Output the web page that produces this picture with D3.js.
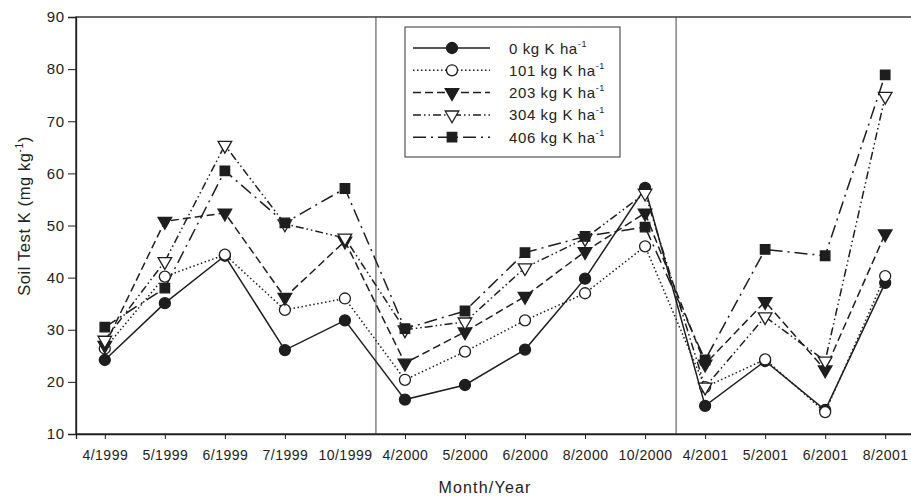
<!DOCTYPE html>
<html>
<head>
<meta charset="utf-8">
<script src="https://cdn.jsdelivr.net/npm/d3@7"></script>
<style>
  html, body { margin: 0; padding: 0; background: #fff; }
  svg { display: block; font-family: Arial, "Liberation Sans", sans-serif; }
</style>
</head>
<body>
<svg id="chart" width="911" height="497"></svg>
<script>
// month/year labels on the x axis
const months = ["4/1999", "5/1999", "6/1999", "7/1999", "10/1999", "4/2000", "5/2000",
  "6/2000", "8/2000", "10/2000", "4/2001", "5/2001", "6/2001", "8/2001"]

// soil test K (mg/kg) per K rate
const k0 = [24.2, 35.1, 44.2, 26.1, 31.8, 16.6, 19.4, 26.2, 39.8, 57.2, 15.4, 24.0, 14.6, 39.0]
const k101 = [26.4, 40.2, 44.4, 33.8, 36.0, 20.4, 25.8, 31.8, 37.0, 46.0, 19.0, 24.3, 14.2, 40.3]
const k203 = [27.0, 50.8, 52.4, 36.2, 47.0, 23.6, 29.6, 36.4, 45.0, 52.4, 23.4, 35.4, 22.3, 48.4]
const k304 = [28.0, 43.1, 65.4, 50.3, 47.6, 30.0, 31.5, 41.9, 47.5, 56.2, 19.0, 32.5, 24.0, 74.8]
const k406 = [30.5, 38.0, 60.5, 50.5, 57.1, 30.2, 33.6, 44.8, 47.9, 49.7, 24.2, 45.4, 44.2, 78.9]

const rateNames = ["0", "101", "203", "304", "406"]
const yTicks = [10, 20, 30, 40, 50, 60, 70, 80, 90]
// year boundaries fall between these months
const yearBreaks = [["10/1999", "4/2000"], ["10/2000", "4/2001"]]

const ink = "#1e1e1e"
const marginLeft = 76
const marginTop = 17
const plotRight = 914
const plotBottom = 434

const series = [
  {name: rateNames[0], values: k0, dash: null, symbol: d3.symbolCircle, fill: ink, size: 95},
  {name: rateNames[1], values: k101, dash: "1.5,2.5", symbol: d3.symbolCircle, fill: "#fff", size: 95},
  {name: rateNames[2], values: k203, dash: "8,4", symbol: "down", fill: ink, size: 80},
  {name: rateNames[3], values: k304, dash: "8,3,1.5,3,1.5,3", symbol: "down", fill: "#fff", size: 80},
  {name: rateNames[4], values: k406, dash: "13,5,2,5", symbol: d3.symbolSquare, fill: ink, size: 90}
]

const svg = d3.select("#chart")

const x = d3.scalePoint(months, [marginLeft, plotRight]).padding(0.48)
const y = d3.scaleLinear([10, 90], [plotBottom, marginTop])

// frame
svg.append("rect")
  .attr("x", marginLeft).attr("y", marginTop)
  .attr("width", plotRight - marginLeft).attr("height", plotBottom - marginTop)
  .attr("fill", "none").attr("stroke", ink).attr("stroke-width", 1.3)

// year separators
yearBreaks.forEach(([a, b]) => {
  const xv = (x(a) + x(b)) / 2 + 1
  svg.append("line")
    .attr("x1", xv).attr("x2", xv)
    .attr("y1", marginTop).attr("y2", plotBottom)
    .attr("stroke", "#444").attr("stroke-width", 1)
})

const xAxis = d3.axisBottom(x).tickSize(5).tickPadding(11)
svg.append("g")
  .attr("transform", `translate(0,${plotBottom})`)
  .call(xAxis)
  .call(g => g.select(".domain").attr("stroke", ink).attr("stroke-width", 1.3))
  .call(g => g.selectAll("line").attr("stroke", ink))
  .call(g => g.selectAll("text").attr("fill", "#222").attr("font-size", 14)
    .attr("letter-spacing", 0.5).attr("font-family", "Arial"))

const yAxis = d3.axisLeft(y).tickValues(yTicks).tickSize(8).tickPadding(3)
svg.append("g")
  .attr("transform", `translate(${marginLeft},0)`)
  .call(yAxis)
  .call(g => g.select(".domain").attr("stroke", ink).attr("stroke-width", 1.3))
  .call(g => g.selectAll("line").attr("stroke", ink))
  .call(g => g.selectAll("text").attr("fill", "#222").attr("font-size", 15)
    .attr("letter-spacing", 0.8).attr("font-family", "Arial"))

// axis titles
svg.append("text")
  .attr("x", 485).attr("y", 493)
  .attr("text-anchor", "middle").attr("font-size", 16).attr("letter-spacing", 1.2).attr("fill", "#222")
  .text("Month/Year")

const yt = svg.append("text")
  .attr("transform", `translate(30,216) rotate(-90)`)
  .attr("text-anchor", "middle").attr("font-size", 16.5).attr("letter-spacing", 0.6).attr("fill", "#222")
yt.append("tspan").text("Soil Test K (mg kg")
yt.append("tspan").attr("dy", -7).attr("font-size", 10).text("-1")
yt.append("tspan").attr("dy", 7).text(")")

function symbolPath(s) {
  if (s.symbol === "down") {
    return d3.symbol(d3.symbolTriangle, s.size)()
  }
  return d3.symbol(s.symbol, s.size)()
}

const line = d3.line()
  .x((d, i) => x(months[i]))
  .y(d => y(d))

series.forEach(s => {
  svg.append("path")
    .attr("d", line(s.values))
    .attr("fill", "none")
    .attr("stroke", ink)
    .attr("stroke-width", 1.5)
    .attr("stroke-dasharray", s.dash)
})

series.forEach(s => {
  svg.append("g").selectAll("path")
    .data(s.values)
    .join("path")
    .attr("d", symbolPath(s))
    .attr("transform", (d, i) => `translate(${x(months[i])},${y(d)})` + (s.symbol === "down" ? " rotate(180)" : ""))
    .attr("fill", s.fill)
    .attr("stroke", ink)
    .attr("stroke-width", 1.3)
})

// legend
svg.append("rect")
  .attr("x", 405).attr("y", 27).attr("width", 215).attr("height", 130)
  .attr("fill", "#fff").attr("stroke", "#333").attr("stroke-width", 1)

series.forEach((s, i) => {
  const ly = 48 + i * 22.3
  svg.append("line")
    .attr("x1", 413).attr("x2", 490).attr("y1", ly).attr("y2", ly)
    .attr("stroke", ink).attr("stroke-width", 1.5)
    .attr("stroke-dasharray", s.dash)
  svg.append("path")
    .attr("d", symbolPath(s))
    .attr("transform", `translate(452,${ly})` + (s.symbol === "down" ? " rotate(180)" : ""))
    .attr("fill", s.fill).attr("stroke", ink).attr("stroke-width", 1.3)
  const t = svg.append("text")
    .attr("x", 509).attr("y", ly + 5.5)
    .attr("font-size", 15).attr("letter-spacing", 0.6).attr("fill", "#222")
  t.append("tspan").text(`${s.name} kg K ha`)
  t.append("tspan").attr("dy", -7).attr("font-size", 9).text("-1")
})
</script>
</body>
</html>
